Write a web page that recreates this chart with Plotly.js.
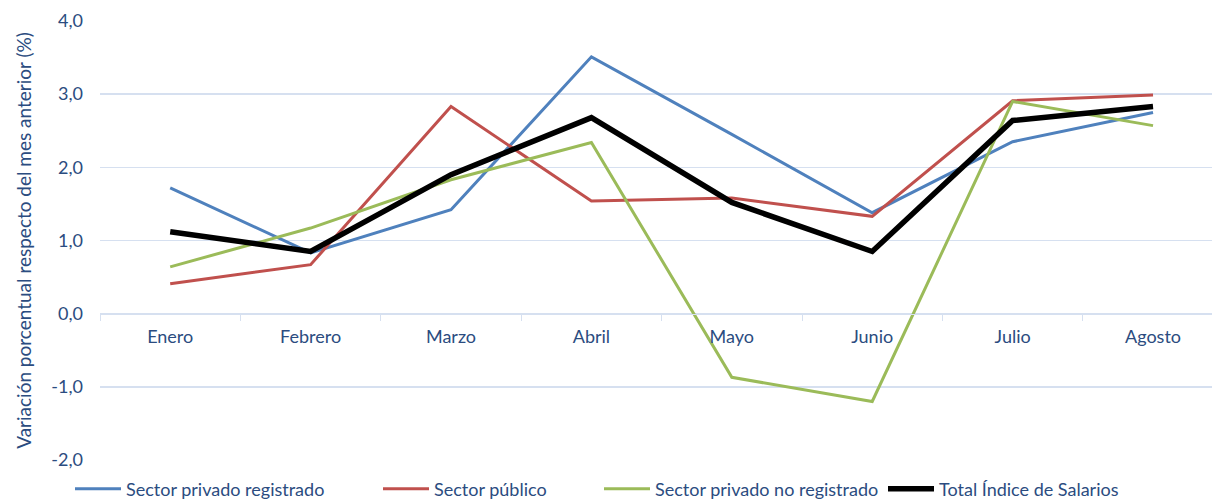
<!DOCTYPE html>
<html><head><meta charset="utf-8">
<script src="https://cdn.plot.ly/plotly-3.0.1.min.js"></script>
<style>body{margin:0;background:#fff}#chart{width:1212px;height:502px}</style>
</head><body><div id="chart"></div>
<script>
const months = ["Enero","Febrero","Marzo","Abril","Mayo","Junio","Julio","Agosto"];
const privadoRegistrado = [1.72, 0.83, 1.42, 3.51, 2.45, 1.38, 2.35, 2.75];
const sectorPublico = [0.41, 0.67, 2.83, 1.54, 1.58, 1.33, 2.91, 2.99];
const privadoNoRegistrado = [0.64, 1.17, 1.83, 2.34, -0.87, -1.20, 2.90, 2.57];
const totalIndice = [1.12, 0.85, 1.90, 2.68, 1.52, 0.85, 2.64, 2.83];
const yTicks = [-2, -1, 0, 1, 2, 3, 4];
const yTickText = ["-2,0","-1,0","0,0","1,0","2,0","3,0","4,0"];

const txt = "#2B4C80";
const fontFam = "Lato, 'Open Sans', sans-serif";
const mk = (y, name, color, w, lg) => ({x: months, y: y, name: name, type: 'scatter', mode: 'lines',
  line: {color: color, width: w}, hoverinfo: 'skip', legend: lg});
const data = [
  mk(privadoRegistrado, "Sector privado registrado", "#4F81BD", 3, 'legend'),
  mk(sectorPublico, "Sector público", "#C0504D", 3, 'legend2'),
  mk(privadoNoRegistrado, "Sector privado no registrado", "#9BBB59", 3, 'legend3'),
  mk(totalIndice, "Total Índice de Salarios", "#000000", 5.5, 'legend4')
];
const lg = (px) => ({orientation: 'h', xref: 'container', yref: 'container', x: px/1212, xanchor: 'left',
  y: 13/502, yanchor: 'middle', itemwidth: 46, font: {size: 18, color: txt}, bgcolor: 'rgba(0,0,0,0)'});
const layout = {
  width: 1212, height: 502,
  margin: {l: 100, r: 0, t: 21, b: 42},
  paper_bgcolor: '#fff', plot_bgcolor: '#fff',
  font: {family: fontFam, size: 18, color: txt},
  showlegend: true,
  legend: lg(70), legend2: lg(378), legend3: lg(599), legend4: lg(883),
  xaxis: {type: 'category', range: [-0.5, 7.42], anchor: 'free', position: 1/3,
    showgrid: false, showline: true, linecolor: '#D6E0F0', linewidth: 1.5,
    ticks: 'outside', tickson: 'boundaries', ticklen: 6, tickcolor: '#D6E0F0',
    ticklabelstandoff: 6, tickfont: {size: 18, color: txt}, zeroline: false, fixedrange: true},
  yaxis: {range: [-2, 4], tickvals: yTicks, ticktext: yTickText, showgrid: true,
    gridcolor: '#D6E0F0', gridwidth: 1.5, zeroline: false, showline: false,
    ticks: '', ticklabelstandoff: 16, tickfont: {size: 18, color: txt}, automargin: false,
    title: {text: "Variación porcentual respecto del mes anterior (%)", font: {size: 19, color: txt}, standoff: 14}}
};
Plotly.newPlot('chart', data, layout, {staticPlot: true});
</script></body></html>
